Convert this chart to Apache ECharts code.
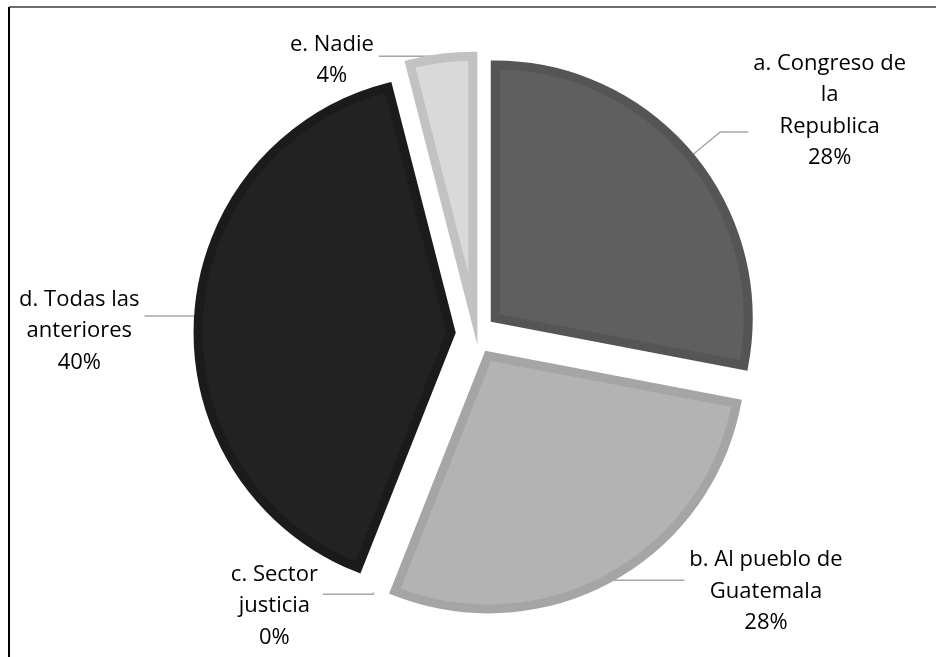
<!DOCTYPE html>
<html>
<head>
<meta charset="utf-8">
<script src="https://cdn.jsdelivr.net/npm/echarts@6/dist/echarts.min.js"></script>
<style>
  html, body { margin: 0; padding: 0; background: #fff; }
  #chart { width: 936px; height: 657px; }
</style>
</head>
<body>
<div id="chart"></div>
<script>
// ---- data ----
const categories = [
  'a. Congreso de\nla\nRepublica',
  'b. Al pueblo de\nGuatemala',
  'c. Sector\njusticia',
  'd. Todas las\nanteriores',
  'e. Nadie'
];
const percents = [28, 28, 0, 40, 4];

// ---- styles / layout (not data) ----
const fills   = ['#5f5f5f', '#b3b3b3', 'rgba(0,0,0,0)', '#222222', '#d9d9d9'];
const borders = ['#555555', '#a5a5a5', 'rgba(0,0,0,0)', '#1b1b1b', '#c2c2c2'];
const borderW = [9, 9, 0, 9, 9];
const lineLen  = [39, 3, 2, 8, 2];
const lineLen2 = [28, 73, 50, 46, 62];
const labelPad = [[0, 0, 42, 0], [22, 0, 0, 0], [23, 0, 0, 0], [30, 0, 0, 0], [8, 0, 0, 0]];

const chart = echarts.init(document.getElementById('chart'), null, { renderer: 'canvas' });

const data = categories.map((name, i) => ({
  name: name,
  value: percents[i],
  selected: true,
  itemStyle: { color: fills[i], borderColor: borders[i], borderWidth: borderW[i] },
  select: { itemStyle: { color: fills[i], borderColor: borders[i], borderWidth: borderW[i] } },
  label: { padding: labelPad[i] },
  labelLine: { length: lineLen[i], length2: lineLen2[i] }
}));

chart.setOption({
  animation: false,
  backgroundColor: '#ffffff',
  graphic: [
    { type: 'line', shape: { x1: 9, y1: 7, x2: 9, y2: 657 }, style: { stroke: '#000000', lineWidth: 2 } },
    { type: 'line', shape: { x1: 9, y1: 7, x2: 936, y2: 7 }, style: { stroke: '#3a3a3a', lineWidth: 1.5 } }
  ],
  series: [{
    type: 'pie',
    center: [476, 334],
    radius: [0, 253],
    startAngle: 90,
    clockwise: true,
    selectedMode: 'multiple',
    selectedOffset: 25,
    avoidLabelOverlap: false,
    minShowLabelAngle: 0,
    itemStyle: { borderJoin: 'miter', borderMiterLimit: 20 },
    emphasis: { disabled: true },
    label: {
      show: true,
      position: 'outside',
      formatter: function (p) {
        const lines = p.name.split('\n').concat([p.value + '%']);
        return lines.map(function (s) { return '{t|' + s + '}'; }).join('\n');
      },
      rich: {
        t: {
          align: 'center',
          fontFamily: '"Open Sans", sans-serif',
          fontSize: 22,
          lineHeight: 31.5,
          color: '#000000'
        }
      },
      color: '#000000',
      textBorderWidth: 0,
      distanceToLabelLine: 5
    },
    labelLine: {
      show: true,
      smooth: false,
      lineStyle: { color: '#a6a6a6', width: 1.5 }
    },
    data: data
  }]
});
</script>
</body>
</html>
